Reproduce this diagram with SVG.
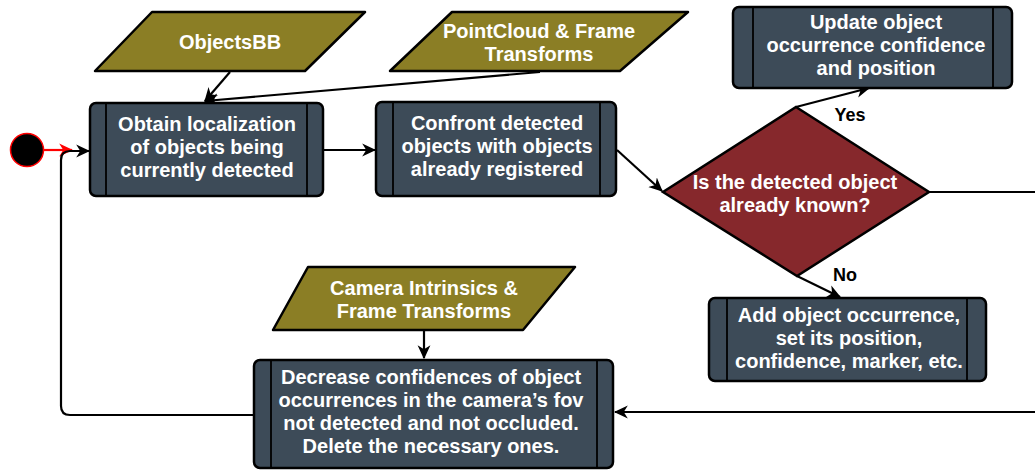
<svg xmlns="http://www.w3.org/2000/svg" width="1035" height="470" viewBox="0 0 1035 470">
<style>
.proc{fill:#3d4b58;stroke:#000;stroke-width:2.5}
.bar{stroke:#000;stroke-width:1.8}
.io{fill:#8b7e25;stroke:#000;stroke-width:2.5;stroke-linejoin:round}
.dec{fill:#86282c;stroke:#000;stroke-width:2.5;stroke-linejoin:miter}
.t{font-family:"Liberation Sans",Arial,Helvetica,sans-serif;font-weight:bold;font-size:20px;fill:#fff;text-anchor:middle}
.lbl{font-family:"Liberation Sans",Arial,Helvetica,sans-serif;font-weight:bold;font-size:18px;fill:#000;text-anchor:middle}
.edge{fill:none;stroke:#000;stroke-width:2.2;stroke-linejoin:round}
</style>
<defs>
<marker id="ah" viewBox="0 0 12 12" refX="11" refY="6" markerWidth="14" markerHeight="14" markerUnits="userSpaceOnUse" orient="auto">
<path d="M0,0.5 L12,6 L0,11.5 L3.5,6 Z" fill="#000"/>
</marker>
<marker id="ahr" viewBox="0 0 12 12" refX="11" refY="6" markerWidth="14" markerHeight="14" markerUnits="userSpaceOnUse" orient="auto">
<path d="M0,0.5 L12,6 L0,11.5 L3.5,6 Z" fill="#f00"/>
</marker>
</defs>

<g id="connectors">
<path class="edge" d="M43,150 L72,150" style="stroke:#f00" marker-end="url(#ahr)"/>
<path class="edge" d="M254,415 L70,415 Q61,415 61,406 L61,160 Q61,151 70,151 L89,151" marker-end="url(#ah)"/>
<path class="edge" d="M230,72 L205,101" marker-end="url(#ah)"/>
<path class="edge" d="M540,72 L205,101" marker-end="url(#ah)"/>
<path class="edge" d="M323,150 L375,150" marker-end="url(#ah)"/>
<path class="edge" d="M617,150 L662,191" marker-end="url(#ah)"/>
<path class="edge" d="M796,107 L869,88" marker-end="url(#ah)"/>
<path class="edge" d="M797,276 L840,297" marker-end="url(#ah)"/>
<path class="edge" d="M929,192 L1035,192"/>
<path class="edge" d="M1035,412 L615,412" marker-end="url(#ah)"/>
<path class="edge" d="M424,330 L424,358" marker-end="url(#ah)"/>
<text class="lbl" x="850" y="121">Yes</text>
<text class="lbl" x="845" y="281">No</text>
</g>

<g id="start">
<circle cx="27" cy="150" r="16.5" fill="#000" stroke="#f00" stroke-width="1.5"/>
</g>

<g id="objectsbb">
<path class="io" d="M152,12 L365,12 L305,71 L95,71 Z"/>
<text class="t" x="230" y="49">ObjectsBB</text>
</g>

<g id="pointcloud">
<path class="io" d="M452,12 L688,12 L620,71 L390,71 Z"/>
<text class="t" x="539" y="38">PointCloud &amp; Frame<tspan x="539" dy="23">Transforms</tspan></text>
</g>

<g id="obtain">
<rect class="proc" x="90" y="103" width="233" height="93" rx="6"/>
<line class="bar" x1="106" y1="103" x2="106" y2="196"/>
<line class="bar" x1="307" y1="103" x2="307" y2="196"/>
<text class="t" x="207" y="131">Obtain localization<tspan x="207" dy="23">of objects being</tspan><tspan x="207" dy="23">currently detected</tspan></text>
</g>

<g id="confront">
<rect class="proc" x="376" y="102" width="240" height="94" rx="6"/>
<line class="bar" x1="393" y1="102" x2="393" y2="196"/>
<line class="bar" x1="600" y1="102" x2="600" y2="196"/>
<text class="t" x="497" y="130">Confront detected<tspan x="497" dy="23">objects with objects</tspan><tspan x="497" dy="23">already registered</tspan></text>
</g>

<g id="decision">
<path class="dec" d="M796,107 L929,192 L797,276 L663,192 Z"/>
<text class="t" x="795" y="189">Is the detected object<tspan x="795" dy="23">already known?</tspan></text>
</g>

<g id="update">
<rect class="proc" x="733" y="7" width="279" height="81" rx="6"/>
<line class="bar" x1="753" y1="7" x2="753" y2="88"/>
<line class="bar" x1="993" y1="7" x2="993" y2="88"/>
<text class="t" x="876" y="29">Update object<tspan x="876" dy="23">occurrence confidence</tspan><tspan x="876" dy="23">and position</tspan></text>
</g>

<g id="add">
<rect class="proc" x="709" y="298" width="277" height="83" rx="6"/>
<line class="bar" x1="727" y1="298" x2="727" y2="381"/>
<line class="bar" x1="967" y1="298" x2="967" y2="381"/>
<text class="t" x="849" y="322">Add object occurrence,<tspan x="849" dy="23">set its position,</tspan><tspan x="849" dy="23">confidence, marker, etc.</tspan></text>
</g>

<g id="camera">
<path class="io" d="M308,267 L575,267 L523,330 L273,330 Z"/>
<text class="t" x="424" y="295">Camera Intrinsics &amp;<tspan x="424" dy="23">Frame Transforms</tspan></text>
</g>

<g id="decrease">
<rect class="proc" x="254" y="360" width="359" height="108" rx="6"/>
<line class="bar" x1="271" y1="360" x2="271" y2="468"/>
<line class="bar" x1="597" y1="360" x2="597" y2="468"/>
<text class="t" x="431" y="384">Decrease confidences of object<tspan x="431" dy="23">occurrences in the camera’s fov</tspan><tspan x="431" dy="23">not detected and not occluded.</tspan><tspan x="431" dy="23">Delete the necessary ones.</tspan></text>
</g>
</svg>
